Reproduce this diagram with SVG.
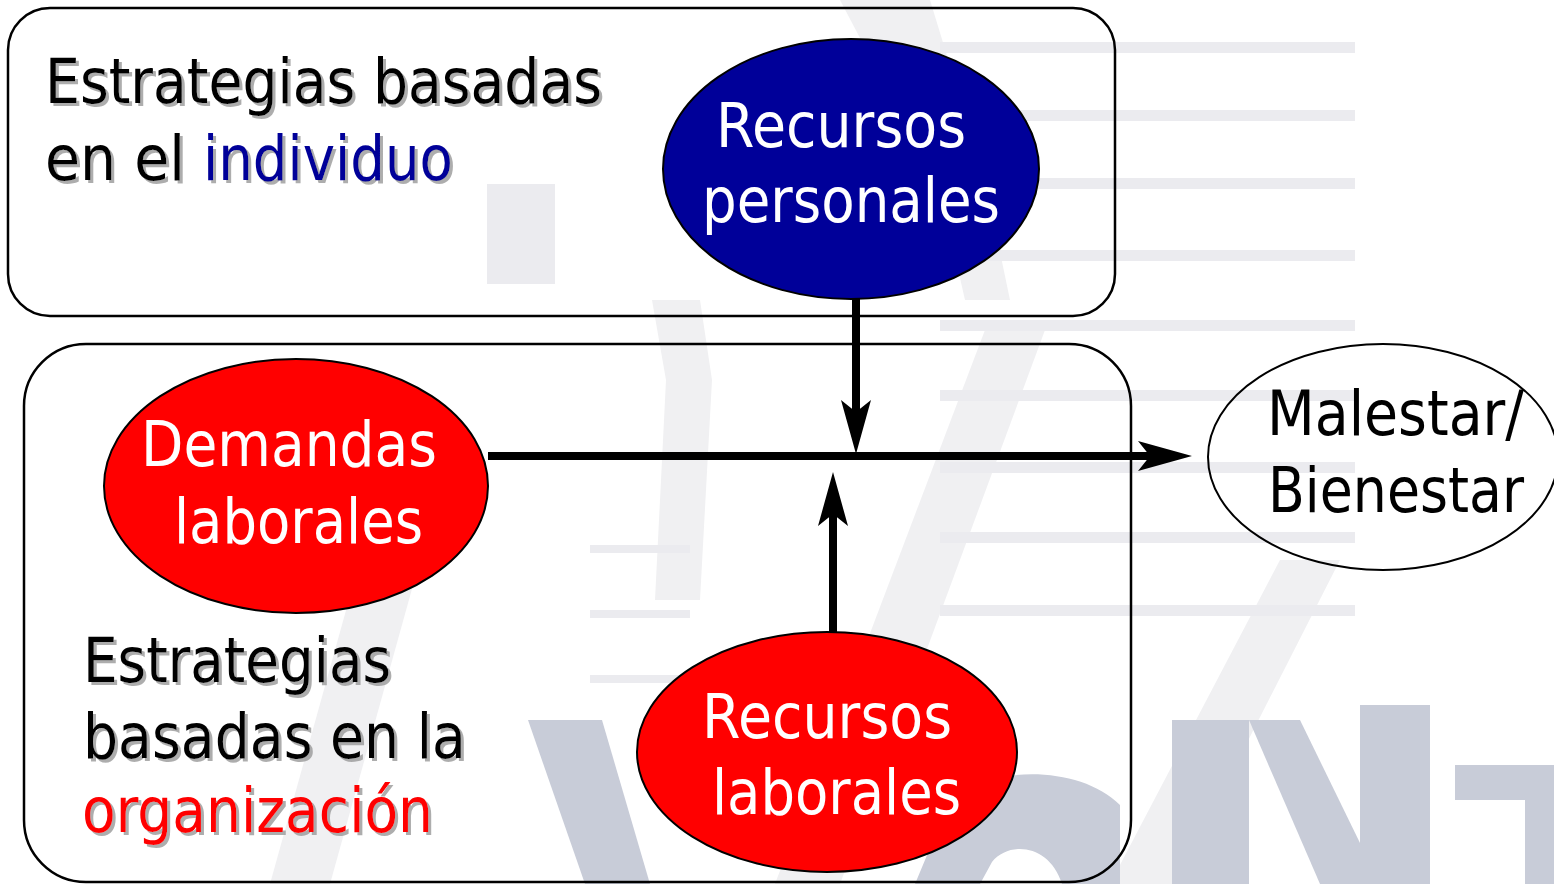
<svg xmlns="http://www.w3.org/2000/svg" width="1554" height="884" viewBox="0 0 1554 884">
<style>
.frame{fill:none;stroke:#000;stroke-width:2.5}
.node{stroke:#000;stroke-width:2}
.t{font-family:"DejaVu Sans","Liberation Sans",sans-serif;font-size:62px}
.w{fill:#fff}
.k{fill:#000}
.sh{filter:url(#shadow)}
.conn{stroke:#000;stroke-width:8;fill:none}
.stripe{fill:#ebebef}
.wm{fill:#c8ccd8}
.wl{fill:#f0f0f2}
</style>
<defs>
<filter id="shadow" x="-5%" y="-20%" width="110%" height="140%">
<feDropShadow dx="3" dy="3" stdDeviation="0.6" flood-color="#999" flood-opacity="0.8"/>
</filter>
<marker id="ah" viewBox="0 0 54 32" refX="12" refY="16" markerWidth="54" markerHeight="32" markerUnits="userSpaceOnUse" orient="auto">
<path d="M0,1 L54,16 L0,31 L12,16 Z" fill="#000"/>
</marker>
</defs>
<rect width="1554" height="884" fill="#fff"/>
<g id="watermark">
<path class="wl" d="M840,0 L930,0 L985,180 L1010,300 L965,300 L940,190 Z"/>
<path class="wl" d="M652,300 L700,300 L712,380 L700,600 L655,600 L666,380 Z"/>
<path class="wl" d="M985,330 L1045,330 L840,884 L775,884 Z"/>
<path class="wl" d="M1280,560 L1340,560 L1175,884 L1110,884 Z"/>
<path class="wl" d="M360,560 L420,560 L330,884 L270,884 Z"/>
<rect class="stripe" x="940" y="42" width="415" height="11"/>
<rect class="stripe" x="940" y="110" width="415" height="11"/>
<rect class="stripe" x="940" y="178" width="415" height="11"/>
<rect class="stripe" x="940" y="250" width="415" height="11"/>
<rect class="stripe" x="940" y="320" width="415" height="11"/>
<rect class="stripe" x="940" y="390" width="415" height="11"/>
<rect class="stripe" x="940" y="462" width="415" height="11"/>
<rect class="stripe" x="940" y="532" width="415" height="11"/>
<rect class="stripe" x="940" y="605" width="415" height="11"/>
<rect class="stripe" x="590" y="545" width="100" height="8"/>
<rect class="stripe" x="590" y="610" width="100" height="8"/>
<rect class="stripe" x="590" y="675" width="100" height="8"/>
<rect class="stripe" x="487" y="184" width="68" height="100"/>
<path class="wm" d="M528,720 L602,720 L650,884 L585,884 Z"/>
<path class="wm" d="M950,800 C990,765 1080,765 1120,805 L1120,884 L1062,884 C1050,845 1010,840 992,862 L980,884 L915,884 Z"/>
<path class="wm" d="M1172,720 L1249,720 L1249,884 L1172,884 Z"/>
<path class="wm" d="M1249,720 L1300,720 L1380,884 L1320,884 Z"/>
<path class="wm" d="M1360,705 L1430,705 L1430,884 L1360,884 Z"/>
<path class="wm" d="M1455,765 L1554,765 L1554,884 L1525,884 L1525,800 L1455,800 Z"/>
</g>
<g id="group-individuo">
<rect class="frame" x="8" y="8" width="1107" height="308" rx="42"/>
<text class="t k sh" x="45" y="103" textLength="557" lengthAdjust="spacingAndGlyphs">Estrategias basadas</text>
<text class="t k sh" x="45" y="180" textLength="140" lengthAdjust="spacingAndGlyphs">en el</text>
<text class="t sh" x="203" y="180" fill="#000099" textLength="250" lengthAdjust="spacingAndGlyphs">individuo</text>
</g>
<g id="group-organizacion">
<rect class="frame" x="24" y="344" width="1107" height="538" rx="62"/>
<text class="t k sh" x="83" y="682" textLength="308" lengthAdjust="spacingAndGlyphs">Estrategias</text>
<text class="t k sh" x="83" y="758" textLength="383" lengthAdjust="spacingAndGlyphs">basadas en la</text>
<text class="t sh" x="82" y="832" fill="#ff0000" textLength="351" lengthAdjust="spacingAndGlyphs">organización</text>
</g>
<g id="connectors">
<line class="conn" x1="488" y1="456" x2="1150" y2="456" marker-end="url(#ah)"/>
<line class="conn" x1="856" y1="297" x2="856" y2="412" marker-end="url(#ah)" stroke-width="9"/>
<line class="conn" x1="833" y1="633" x2="833" y2="514" marker-end="url(#ah)" stroke-width="9"/>
</g>
<g id="recursos-personales">
<ellipse class="node" cx="851" cy="169" rx="188" ry="130" fill="#000099"/>
<text class="t w" x="716" y="147" textLength="250" lengthAdjust="spacingAndGlyphs">Recursos</text>
<text class="t w" x="702" y="222" textLength="298" lengthAdjust="spacingAndGlyphs">personales</text>
</g>
<g id="demandas-laborales">
<ellipse class="node" cx="296" cy="486" rx="192" ry="127" fill="#ff0000"/>
<text class="t w" x="141" y="466" textLength="296" lengthAdjust="spacingAndGlyphs">Demandas</text>
<text class="t w" x="174" y="543" textLength="249" lengthAdjust="spacingAndGlyphs">laborales</text>
</g>
<g id="recursos-laborales">
<ellipse class="node" cx="827" cy="752" rx="190" ry="120" fill="#ff0000"/>
<text class="t w" x="702" y="738" textLength="250" lengthAdjust="spacingAndGlyphs">Recursos</text>
<text class="t w" x="712" y="814" textLength="249" lengthAdjust="spacingAndGlyphs">laborales</text>
</g>
<g id="malestar-bienestar">
<ellipse class="node" cx="1383" cy="457" rx="175" ry="113" fill="none"/>
<text class="t k" x="1267" y="435" textLength="257" lengthAdjust="spacingAndGlyphs">Malestar/</text>
<text class="t k" x="1268" y="512" textLength="256" lengthAdjust="spacingAndGlyphs">Bienestar</text>
</g>
</svg>
